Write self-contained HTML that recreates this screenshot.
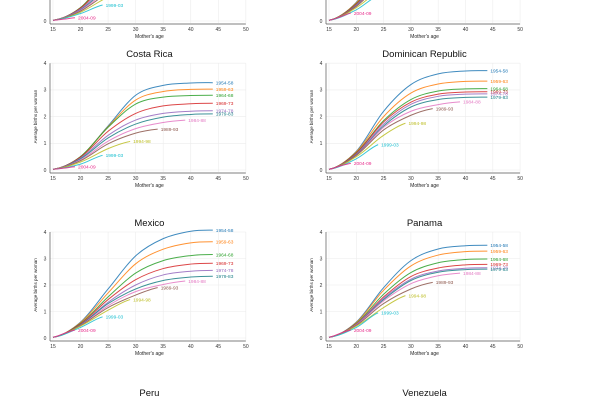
<!DOCTYPE html>
<html><head><meta charset="utf-8"><style>
html,body{margin:0;padding:0;background:#fff;width:600px;height:400px;overflow:hidden}
svg{display:block;font-family:"Liberation Sans",sans-serif;overflow:hidden}
</style></head><body>
<svg id="c" width="600" height="400" viewBox="0 0 600 400">
<defs><clipPath id="frame"><rect x="0" y="0" width="600" height="400"/></clipPath></defs>
<g id="root" clip-path="url(#frame)"></g>
</svg>
<script>
const cohorts=["1954-58","1959-63","1964-68","1969-73","1974-78","1979-83","1984-88","1989-93","1994-98","1999-03","2004-09"];
const colors=["#1f77b4","#ff7f0e","#2ca02c","#d62728","#9467bd","#1b7f86","#e377c2","#8c564b","#bcbd22","#17becf","#e7298a"];
const cohortAges=[[15,20,25,30,35,40,44],[15,20,25,30,35,40,44],[15,20,25,30,35,40,44],[15,20,25,30,35,40,44],[15,20,25,30,35,40,44],[15,20,25,30,35,40,44],[15,20,25,30,35,39],[15,20,25,30,34],[15,20,25,29],[15,20,24],[15,17,19]];
const xTicks=[15,20,25,30,35,40,45,50];
const yTicks=[0,1,2,3,4];
const topLeftVals=[[0.03,0.5,1.7,2.8,3.2,3.3,3.32],[0.03,0.5,1.65,2.65,3,3.08,3.1],[0.03,0.5,1.6,2.5,2.78,2.85,2.86],[0.03,0.48,1.5,2.2,2.45,2.52,2.54],[0.03,0.45,1.35,1.95,2.2,2.28,2.3],[0.03,0.42,1.25,1.8,2.05,2.13,2.15],[0.03,0.4,1.15,1.65,1.88,1.95],[0.03,0.37,1.05,1.5,1.65],[0.03,0.33,0.9,1.2],[0.03,0.28,0.6],[0.03,0.07,0.12]];
const topRightVals=[[0.03,0.7,2.2,3.2,3.6,3.72,3.74],[0.03,0.68,2,2.9,3.22,3.32,3.34],[0.03,0.65,1.85,2.65,2.95,3.04,3.06],[0.03,0.63,1.8,2.55,2.83,2.92,2.94],[0.03,0.6,1.72,2.45,2.75,2.84,2.86],[0.03,0.58,1.65,2.35,2.63,2.72,2.74],[0.03,0.56,1.6,2.2,2.45,2.55],[0.03,0.55,1.5,2.05,2.3],[0.03,0.5,1.3,1.75],[0.03,0.42,0.95],[0.03,0.15,0.3]];
const costaRicaVals=[[0.03,0.5,1.65,2.8,3.17,3.26,3.27],[0.03,0.5,1.62,2.62,2.94,3.02,3.03],[0.03,0.5,1.6,2.47,2.73,2.79,2.8],[0.03,0.48,1.45,2.12,2.4,2.48,2.5],[0.03,0.45,1.3,1.87,2.12,2.2,2.22],[0.03,0.42,1.2,1.72,1.98,2.08,2.1],[0.03,0.38,1.08,1.55,1.78,1.87],[0.03,0.35,0.98,1.38,1.53],[0.03,0.3,0.8,1.07],[0.03,0.22,0.55],[0.03,0.07,0.12]];
const dominicanVals=[[0.03,0.7,2.2,3.2,3.6,3.71,3.72],[0.03,0.68,2,2.88,3.22,3.32,3.33],[0.03,0.65,1.85,2.64,2.96,3.04,3.05],[0.03,0.63,1.8,2.54,2.84,2.92,2.93],[0.03,0.6,1.72,2.46,2.76,2.84,2.85],[0.03,0.58,1.65,2.36,2.64,2.72,2.73],[0.03,0.56,1.6,2.2,2.45,2.55],[0.03,0.55,1.5,2.05,2.3],[0.03,0.5,1.3,1.75],[0.03,0.42,0.95],[0.03,0.15,0.25]];
const mexicoVals=[[0.03,0.6,1.85,3.1,3.75,4.03,4.07],[0.03,0.58,1.7,2.8,3.35,3.59,3.63],[0.03,0.55,1.55,2.45,2.92,3.11,3.15],[0.03,0.53,1.45,2.2,2.62,2.79,2.82],[0.03,0.5,1.35,2.0,2.38,2.52,2.55],[0.03,0.5,1.3,1.85,2.17,2.3,2.33],[0.03,0.48,1.22,1.75,2.02,2.15],[0.03,0.47,1.15,1.62,1.9],[0.03,0.45,1.05,1.45],[0.03,0.4,0.8],[0.03,0.17,0.3]];
const panamaVals=[[0.03,0.6,1.9,2.92,3.36,3.48,3.5],[0.03,0.58,1.8,2.72,3.13,3.26,3.28],[0.03,0.55,1.65,2.47,2.84,2.96,2.98],[0.03,0.53,1.55,2.32,2.64,2.76,2.78],[0.03,0.52,1.5,2.22,2.53,2.63,2.65],[0.03,0.5,1.45,2.17,2.48,2.58,2.6],[0.03,0.5,1.4,2.05,2.35,2.45],[0.03,0.48,1.3,1.85,2.1],[0.03,0.45,1.15,1.6],[0.03,0.4,0.95],[0.03,0.17,0.3]];
const emptyVals=[[],[],[],[],[],[],[],[],[],[],[]];
const panels=[
 {name:"Top left",vals:topLeftVals,x0:53,y0:21,sx:5.51,sy:26.7,title:false,full:true},
 {name:"Top right",vals:topRightVals,x0:329,y0:21,sx:5.46,sy:26.7,title:false,full:true},
 {name:"Costa Rica",vals:costaRicaVals,x0:53,y0:170,sx:5.51,sy:26.7,title:true,full:true},
 {name:"Dominican Republic",vals:dominicanVals,x0:329,y0:170,sx:5.46,sy:26.7,title:true,full:true},
 {name:"Mexico",vals:mexicoVals,x0:53,y0:338,sx:5.51,sy:26.5,title:true,full:true},
 {name:"Panama",vals:panamaVals,x0:329,y0:338,sx:5.46,sy:26.5,title:true,full:true},
 {name:"Peru",vals:emptyVals,x0:53,y0:508,sx:5.51,sy:26.5,title:true,full:false},
 {name:"Venezuela",vals:emptyVals,x0:329,y0:508,sx:5.46,sy:26.5,title:true,full:false}
];
const NS="http://www.w3.org/2000/svg";
const root=document.getElementById("root");
function mk(t,a,p){const e=document.createElementNS(NS,t);for(const k in a)e.setAttribute(k,a[k]);(p||root).appendChild(e);return e;}
function slug(s){return s.toLowerCase().replace(/[^a-z0-9]+/g,"-");}
const vis=y=>y>=2&&y<=399;
function smoothPath(pts){
 const n=pts.length;if(n<2)return "";
 const m=[];
 for(let i=0;i<n;i++){
  if(i===0)m[i]=0.25*(pts[1][1]-pts[0][1])/(pts[1][0]-pts[0][0]);
  else if(i===n-1)m[i]=(n>=7)?0:0.6*(pts[i][1]-pts[i-1][1])/(pts[i][0]-pts[i-1][0]);
  else m[i]=(pts[i+1][1]-pts[i-1][1])/(pts[i+1][0]-pts[i-1][0]);
 }
 let p="M"+pts[0][0].toFixed(2)+","+pts[0][1].toFixed(2);
 for(let i=0;i<n-1;i++){const h=pts[i+1][0]-pts[i][0];
  p+=" C"+(pts[i][0]+h/3).toFixed(2)+","+(pts[i][1]+m[i]*h/3).toFixed(2)+" "+(pts[i+1][0]-h/3).toFixed(2)+","+(pts[i+1][1]-m[i+1]*h/3).toFixed(2)+" "+pts[i+1][0].toFixed(2)+","+pts[i+1][1].toFixed(2);}
 return p;
}
panels.forEach(P=>{
 const g=mk("g",{});
 
 
 const X=a=>P.x0+(a-15)*P.sx, Y=v=>P.y0-v*P.sy;
 const clampY=y=>Math.max(0,Math.min(400,y));
 if(P.title){const ty=Y(4)-6;if(vis(ty)){const t=mk("text",{x:X(32.5),y:ty,"text-anchor":"middle","font-size":"9.5",fill:"#111"},g);t.textContent=P.name;
  
  }}
 if(!P.full)return;
 xTicks.forEach(a=>{const l=mk("line",{x1:X(a),x2:X(a),y1:clampY(Y(4)),y2:P.y0+2,stroke:"#ececec","stroke-width":"0.6"},g);
  
  
  const t=mk("text",{x:X(a),y:P.y0+10,"text-anchor":"middle","font-size":"5",fill:"#333"},g);t.textContent=a;
  
  });
 yTicks.forEach(v=>{if(!vis(Y(v)))return;
  const l=mk("line",{x1:X(15)-3,x2:X(50),y1:Y(v),y2:Y(v),stroke:"#ececec","stroke-width":"0.6"},g);
  
  
  const t=mk("text",{x:X(15)-8,y:Y(v)+1.8,"text-anchor":"middle","font-size":"5",fill:"#333"},g);t.textContent=v;
  
  });
 const ya=mk("line",{x1:X(15)-3,x2:X(15)-3,y1:clampY(Y(4)),y2:P.y0+3,stroke:"#555","stroke-width":"0.7"},g);
 
 
 const xa=mk("line",{x1:X(15)-3,x2:X(50),y1:P.y0+3,y2:P.y0+3,stroke:"#555","stroke-width":"0.7"},g);
 
 
 const xt=mk("text",{x:X(32.5),y:P.y0+17,"text-anchor":"middle","font-size":"5",fill:"#222"},g);xt.textContent="Mother's age";
 
 
 const yx=X(15)-16,yy=Y(2);
 if(vis(yy)){const yt=mk("text",{x:yx,y:yy,"text-anchor":"middle","font-size":"4.6",fill:"#222",transform:"rotate(-90 "+yx+" "+yy+")"},g);yt.textContent="Average births per woman";
 
 }
 P.vals.forEach((vals,i)=>{
  if(!vals.length)return;
  const ages=cohortAges[i];
  const pts=vals.map((v,j)=>[X(ages[j]),Y(v)]);
  const path=mk("path",{d:smoothPath(pts),fill:"none",stroke:colors[i],"stroke-width":"1","stroke-opacity":"0.85"},g);
  
  
  const last=pts[pts.length-1];
  if(vis(last[1])){const t=mk("text",{x:last[0]+3,y:last[1]+1.8,"font-size":"4.8",fill:colors[i]},g);t.textContent=cohorts[i];
  
  }
 });
});
</script>
</body></html>
